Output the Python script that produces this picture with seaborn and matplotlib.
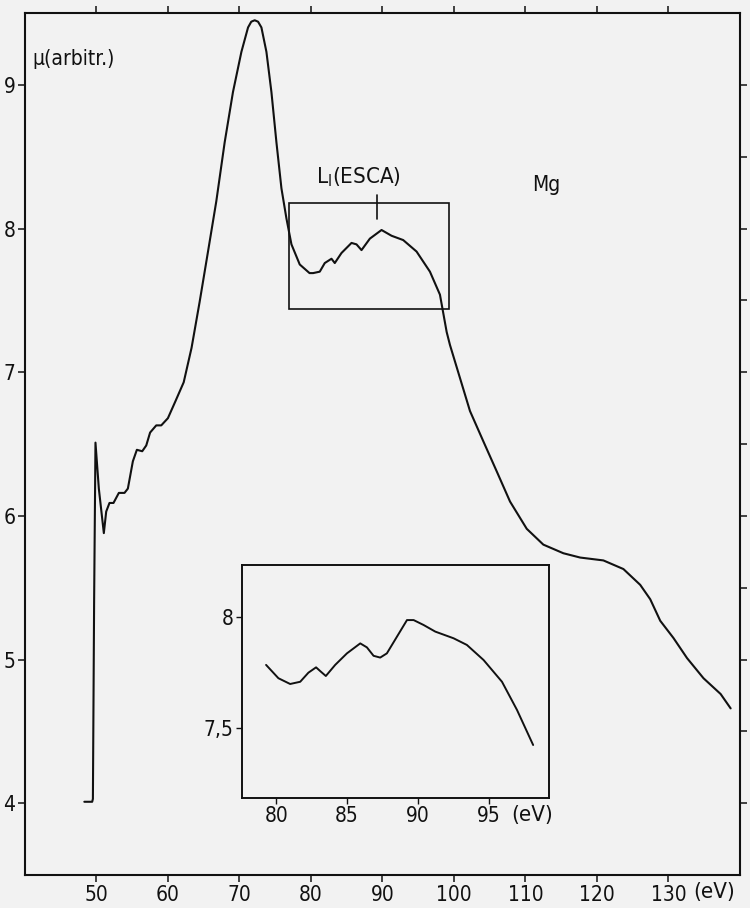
import numpy as np
import pandas as pd
import matplotlib
matplotlib.use('Agg')
import matplotlib.pyplot as plt
import seaborn as sns
from matplotlib.patches import Rectangle

# ---- data ----
energy = [48.3, 49.4, 49.5, 49.67, 49.86, 50.33, 51.03, 51.36, 51.82, 52.38,
          53.13, 53.92, 54.39, 55.09, 55.65, 56.4, 56.96, 57.5, 58.36, 59.06,
          59.99, 61.06, 62.2, 63.3, 64.43, 65.6, 66.76, 67.93, 69.09, 70.27,
          71.2, 71.65, 72.13, 72.6, 73.07, 73.77, 74.47, 75.17, 75.87, 76.57,
          77.27, 78.43, 79.8, 80.3, 81.23, 81.93, 82.87, 83.33, 84.27, 85.67,
          86.37, 87.07, 88.24, 89.87, 91.27, 92.9, 94.77, 96.64, 98.04, 98.98,
          99.44, 100.84, 102.24, 104.1, 105.98, 107.84, 110.18, 112.5, 115.3, 117.65,
          120.9, 123.7, 126.05, 127.45, 128.85, 130.7, 132.6, 134.9, 137.3, 138.7]
mu = [4.01, 4.01, 4.03, 5.4, 6.51, 6.19, 5.88, 6.03, 6.09, 6.09,
      6.16, 6.16, 6.19, 6.38, 6.46, 6.45, 6.49, 6.58, 6.63, 6.63,
      6.68, 6.80, 6.93, 7.17, 7.49, 7.84, 8.19, 8.60, 8.95, 9.23,
      9.40, 9.44, 9.45, 9.44, 9.40, 9.23, 8.95, 8.60, 8.28, 8.07,
      7.89, 7.75, 7.69, 7.69, 7.70, 7.76, 7.79, 7.76, 7.83, 7.90,
      7.89, 7.85, 7.93, 7.99, 7.95, 7.92, 7.84, 7.70, 7.54, 7.28,
      7.19, 6.96, 6.73, 6.52, 6.31, 6.10, 5.91, 5.80, 5.74, 5.71,
      5.69, 5.63, 5.52, 5.42, 5.27, 5.15, 5.01, 4.87, 4.76, 4.66]

# inset: L_I (ESCA) region enlarged
inset_energy = [79.29, 80.16, 80.99, 81.7, 82.28, 82.82, 83.15, 83.51, 84.17, 85.0,
                85.94, 86.41, 86.88, 87.35, 87.82, 88.53, 89.24, 89.71, 90.41, 91.24,
                92.53, 93.47, 94.65, 95.95, 97.01, 98.15]
inset_mu = [7.786, 7.726, 7.70, 7.71, 7.751, 7.775, 7.756, 7.736, 7.786, 7.838,
            7.883, 7.865, 7.827, 7.819, 7.838, 7.913, 7.988, 7.988, 7.966, 7.936,
            7.906, 7.876, 7.808, 7.71, 7.583, 7.425]

main_xticks = [50, 60, 70, 80, 90, 100, 110, 120, 130]
main_yticks = [4, 5, 6, 7, 8, 9]
right_yticks = [4, 4.5, 5, 5.5, 6, 6.5, 7, 7.5, 8, 8.5, 9]
inset_xticks = [80, 85, 90, 95]
inset_yticks = [7.5, 8]
inset_ylabels = ['7,5', '8']

box_x = (76.9, 99.3)
box_y = (7.44, 8.18)
esca_x = 89.2

sns.set_style('ticks')
plt.rcParams['font.family'] = ['DejaVu Sans']
plt.rcParams['font.stretch'] = 'condensed'
bg = '#f2f2f2'
ink = '#111111'
fs = 15

fig = plt.figure(figsize=(7.5, 9.08), dpi=100, facecolor=bg)
ax = fig.add_axes([0.0333, 0.0363, 0.9533, 0.9493], facecolor=bg)

df = pd.DataFrame({'E': energy, 'mu': mu})
sns.lineplot(data=df, x='E', y='mu', sort=False, estimator=None, color=ink, lw=1.5, ax=ax)

ax.set_xlim(40, 140)
ax.set_ylim(3.5, 9.5)
ax.set_xticks(main_xticks)
ax.set_xticklabels([str(t) for t in main_xticks])
ax.set_yticks(main_yticks)
ax.set_yticklabels([str(t) for t in main_yticks])
ax.set_xlabel('')
ax.set_ylabel('')
for s in ax.spines.values():
    s.set_linewidth(1.5)
    s.set_color(ink)
ax.tick_params(axis='both', direction='out', length=5, width=1.1, colors=ink,
               labelsize=fs, pad=2, top=True)

# right-hand ticks every half unit, no labels
axr = ax.twinx()
axr.set_ylim(ax.get_ylim())
axr.set_yticks(right_yticks)
axr.set_yticklabels([])
axr.tick_params(axis='y', direction='out', length=5, width=1.1, colors=ink)
for s in axr.spines.values():
    s.set_visible(False)

ax.text(133.4, 3.5 - 0.045, '(eV)', fontsize=fs + 1, ha='left', va='top', color=ink)
ax.text(41.0, 9.18, 'μ(arbitr.)', fontsize=fs, ha='left', va='center', color=ink)

# boxed region and ESCA marker
ax.add_patch(Rectangle((box_x[0], box_y[0]), box_x[1] - box_x[0], box_y[1] - box_y[0],
                       fill=False, lw=1.2, edgecolor=ink))
ax.plot([esca_x, esca_x], [8.07, 8.235], color=ink, lw=1.2)
ax.text(86.7, 8.36, r'L$_{\mathrm{I}}$(ESCA)', fontsize=fs + 1, ha='center', va='center', color=ink)
ax.text(112.9, 8.30, 'Mg', fontsize=fs, ha='center', va='center', color=ink)

# inset
axi = fig.add_axes([0.3223, 0.1211, 0.4097, 0.2566], facecolor=bg)
dfi = pd.DataFrame({'E': inset_energy, 'mu': inset_mu})
sns.lineplot(data=dfi, x='E', y='mu', sort=False, estimator=None, color=ink, lw=1.4, ax=axi)
axi.set_xlim(77.57, 99.27)
axi.set_ylim(7.186, 8.236)
axi.set_xticks(inset_xticks)
axi.set_xticklabels([str(t) for t in inset_xticks])
axi.set_yticks(inset_yticks)
axi.set_yticklabels(inset_ylabels)
axi.set_xlabel('')
axi.set_ylabel('')
for s in axi.spines.values():
    s.set_linewidth(1.4)
    s.set_color(ink)
axi.tick_params(axis='both', direction='out', length=4, width=1.0, colors=ink,
                labelsize=fs, pad=2)
axi.text(96.6, 7.186 - 0.03, '(eV)', fontsize=fs + 1, ha='left', va='top', color=ink)

fig.savefig('out.png', dpi=100, facecolor=bg)
